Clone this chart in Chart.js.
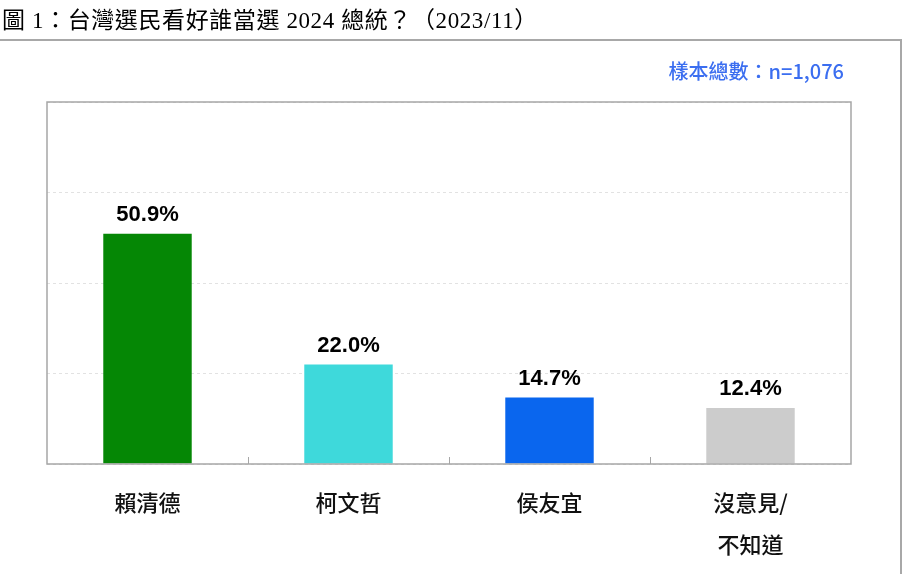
<!DOCTYPE html>
<html>
<head>
<meta charset="utf-8">
<script src="https://cdn.jsdelivr.net/npm/chart.js@4"></script>
<style>
  html, body { margin: 0; padding: 0; background: #fff; }
  #wrap { width: 903px; height: 574px; }
</style>
</head>
<body>
<div id="wrap"><canvas id="chart" width="903" height="574"></canvas></div>
<script>
const candidates = ["賴清德", "柯文哲", "侯友宜", ["沒意見/", "不知道"]];
const shares = [50.9, 22.0, 14.7, 12.4];
const barColors = ["#058705", "#3ed9db", "#0a66ee", "#cccccc"];
const yTicks = [0, 20, 40, 60, 80];
const titleText = "圖 1：台灣選民看好誰當選 2024 總統？（2023/11）";
const sampleText = "樣本總數：n=1,076";

// draws title, outer frame, plot border, inner ticks and value labels
const decorations = {
  id: "decorations",
  beforeDraw(chart) {
    const ctx = chart.ctx;
    ctx.save();
    ctx.fillStyle = "#fff";
    ctx.fillRect(0, 0, chart.width, chart.height);
    // outer frame
    ctx.strokeStyle = "#a8a8a8";
    ctx.lineWidth = 2;
    ctx.strokeRect(-2, 40, 903, 600);
    // title
    ctx.fillStyle = "#000";
    ctx.font = "23px 'Liberation Serif', 'Noto Sans CJK TC', serif";
    ctx.letterSpacing = "0.6px";
    ctx.textBaseline = "alphabetic";
    ctx.textAlign = "left";
    ctx.fillText(titleText, 2, 28);
    ctx.letterSpacing = "0px";
    // sample note
    ctx.fillStyle = "#3b6ef0";
    ctx.font = "500 20px 'Noto Sans CJK TC', sans-serif";
    ctx.textAlign = "right";
    ctx.textBaseline = "middle";
    ctx.fillText(sampleText, 844, 71);
    ctx.restore();
  },
  afterDraw(chart) {
    const ctx = chart.ctx;
    const area = chart.chartArea;
    const x = chart.scales.x;
    ctx.save();
    // plot border
    ctx.strokeStyle = "#a6a6a6";
    ctx.lineWidth = 1.5;
    ctx.strokeRect(area.left, area.top, area.right - area.left, area.bottom - area.top);
    // inner category ticks
    ctx.lineWidth = 1;
    for (let i = 1; i < candidates.length; i++) {
      const px = Math.round((x.getPixelForTick(i - 1) + x.getPixelForTick(i)) / 2) + 0.5;
      ctx.beginPath();
      ctx.moveTo(px, area.bottom);
      ctx.lineTo(px, area.bottom - 7);
      ctx.stroke();
    }
    // value labels
    ctx.fillStyle = "#000";
    ctx.font = "bold 22px 'Liberation Sans', Arial, sans-serif";
    ctx.textAlign = "center";
    ctx.textBaseline = "bottom";
    chart.getDatasetMeta(0).data.forEach((bar, i) => {
      ctx.fillText(shares[i].toFixed(1) + "%", bar.x, bar.y - 8);
    });
    ctx.restore();
  }
};

new Chart(document.getElementById("chart"), {
  type: "bar",
  data: {
    labels: candidates,
    datasets: [{
      data: shares,
      backgroundColor: barColors,
      borderWidth: 0,
      categoryPercentage: 1,
      barPercentage: 0.44
    }]
  },
  options: {
    responsive: false,
    animation: false,
    layout: { padding: { top: 102, right: 52, left: 0, bottom: 0 } },
    plugins: { legend: { display: false }, tooltip: { enabled: false } },
    scales: {
      x: {
        grid: { display: false },
        border: { display: false },
        ticks: {
          color: "#111",
          font: { family: "'Noto Sans CJK TC', sans-serif", size: 22, weight: 500, lineHeight: 1.9 },
          padding: 10
        },
        afterFit(scale) { scale.height = 110; }
      },
      y: {
        min: 0,
        max: yTicks[yTicks.length - 1],
        afterBuildTicks(scale) { scale.ticks = yTicks.map(v => ({ value: v })); },
        grid: { color: "#e2e2e2", drawTicks: false },
        border: { display: false, dash: [3, 3] },
        ticks: { display: false },
        afterFit(scale) { scale.width = 47; }
      }
    }
  },
  plugins: [decorations]
});
</script>
</body>
</html>
